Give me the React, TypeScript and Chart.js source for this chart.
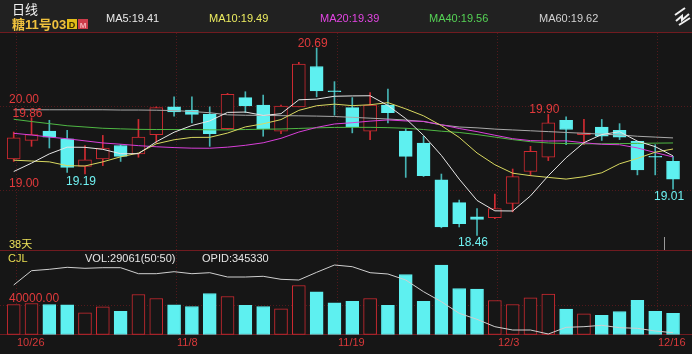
import React, { useEffect, useRef } from 'react';
import { Chart, registerables } from 'chart.js';

Chart.register(...registerables);

const W = 692;
const H = 354;

// ---- data ----
const opens = [19.37, 19.59, 19.70, 19.61, 19.28, 19.37, 19.53, 19.43, 19.66, 19.99, 19.95, 19.90, 19.73, 20.10, 20.01, 19.70, 19.99, 20.47, 20.18, 19.98, 19.70, 20.01, 19.70, 19.56, 19.12, 18.85, 18.68, 18.67, 18.84, 19.22, 19.39, 19.83, 19.66, 19.75, 19.71, 19.58, 19.40, 19.34];
const highs = [19.69, 19.86, 19.83, 19.71, 19.53, 19.65, 19.54, 19.84, 19.99, 20.11, 20.11, 19.99, 20.15, 20.17, 20.13, 20.01, 20.52, 20.69, 20.29, 20.10, 20.16, 20.20, 19.73, 19.64, 19.19, 18.88, 18.78, 18.95, 19.25, 19.52, 19.90, 19.87, 19.84, 19.84, 19.79, 19.58, 19.54, 19.40];
const lows = [19.34, 19.52, 19.50, 19.21, 19.19, 19.29, 19.34, 19.39, 19.56, 19.88, 19.80, 19.52, 19.72, 19.92, 19.64, 19.67, 19.99, 20.11, 19.89, 19.68, 19.60, 19.80, 19.15, 19.16, 18.55, 18.56, 18.46, 18.66, 18.74, 19.17, 19.35, 19.54, 19.54, 19.59, 19.60, 19.18, 19.18, 19.01];
const closes = [19.62, 19.66, 19.63, 19.27, 19.36, 19.50, 19.40, 19.63, 19.98, 19.93, 19.90, 19.67, 20.14, 20.00, 19.73, 20.00, 20.50, 20.18, 20.17, 19.75, 20.01, 19.92, 19.40, 19.17, 18.56, 18.60, 18.65, 18.78, 19.16, 19.46, 19.80, 19.72, 19.68, 19.64, 19.63, 19.24, 19.39, 19.13];

const volumes = [41400, 42700, 41400, 41000, 29900, 38200, 32100, 55200, 49600, 41000, 38600, 56500, 52400, 40400, 38600, 35400, 67600, 58900, 43700, 45900, 49600, 40400, 82700, 45900, 95600, 63400, 62500, 46900, 41400, 50600, 55600, 34900, 28500, 26600, 31700, 47300, 32100, 29061];
const openInterest = [393030, 407330, 408730, 410730, 409730, 410330, 410330, 404330, 404330, 406330, 404330, 405330, 401030, 401030, 401730, 398730, 398030, 405730, 413030, 411330, 405330, 404030, 398030, 386330, 376330, 364730, 358730, 351330, 348030, 348030, 344030, 350730, 351330, 352730, 350330, 349730, 347030, 345330];

const ma5 = [19.22, 19.32, 19.43, 19.51, 19.508, 19.484, 19.432, 19.432, 19.574, 19.688, 19.768, 19.822, 19.924, 19.928, 19.888, 19.908, 20.074, 20.082, 20.116, 20.12, 20.122, 20.006, 19.85, 19.65, 19.412, 19.13, 18.876, 18.752, 18.75, 18.93, 19.17, 19.384, 19.564, 19.66, 19.694, 19.582, 19.516, 19.406];
const ma10 = [19.355, 19.345, 19.335, 19.29, 19.286, 19.335, 19.395, 19.44, 19.55, 19.598, 19.626, 19.627, 19.678, 19.751, 19.788, 19.838, 19.948, 20.003, 20.022, 20.004, 20.015, 20.04, 19.966, 19.883, 19.766, 19.626, 19.441, 19.301, 19.2, 19.171, 19.15, 19.13, 19.158, 19.205, 19.312, 19.376, 19.45, 19.488];
const ma20 = [19.675, 19.655, 19.63, 19.61, 19.585, 19.56, 19.545, 19.528, 19.515, 19.505, 19.498, 19.497, 19.51, 19.532, 19.562, 19.615, 19.69, 19.745, 19.786, 19.801, 19.82, 19.834, 19.822, 19.817, 19.777, 19.732, 19.695, 19.652, 19.611, 19.588, 19.583, 19.585, 19.562, 19.544, 19.539, 19.501, 19.446, 19.393];
const ma40 = [19.842, 19.815, 19.79, 19.765, 19.75, 19.735, 19.728, 19.722, 19.72, 19.72, 19.72, 19.716, 19.716, 19.72, 19.724, 19.726, 19.733, 19.74, 19.745, 19.746, 19.746, 19.742, 19.735, 19.72, 19.7, 19.685, 19.66, 19.63, 19.6, 19.575, 19.56, 19.553, 19.55, 19.55, 19.552, 19.555, 19.558, 19.56];
const ma60 = [19.955, 19.955, 19.955, 19.955, 19.955, 19.955, 19.952, 19.952, 19.95, 19.945, 19.935, 19.92, 19.895, 19.89, 19.888, 19.885, 19.883, 19.88, 19.875, 19.865, 19.855, 19.845, 19.833, 19.815, 19.775, 19.75, 19.74, 19.725, 19.715, 19.705, 19.695, 19.685, 19.675, 19.665, 19.655, 19.64, 19.63, 19.62];

const dateLabels = ['10/26', '11/8', '11/19', '12/3', '12/16'];
const dateIndex = [0, 9, 18, 27, 36];
const priceTicks = [20, 19];
const volumeTicks = [40000];
const highMarks = [1, 17, 30];
const lowMarks = [4, 26, 37];

const maNames = ['MA5', 'MA10', 'MA20', 'MA40', 'MA60'];
const maValues = [ma5, ma10, ma20, ma40, ma60];

// ---- styles ----
const BG = '#161616';
const HEAD = '#212121';
const UP = '#cf2a31';
const DOWN = '#5ef0f0';
const DOWN_WICK = '#46b4b4';
const SEP = '#701b20';
const GRID = '#52191c';
const LABEL_RED = '#e23a3c';
const MA_COLORS = ['#e6e6e6', '#d8d860', '#d93fd9', '#4fb844', '#a9a9a9'];
const MA_TEXT = ['#e8e8e8', '#ecec60', '#e445e4', '#55d255', '#d2d2d2'];
const MA_TEXT_X = [106, 209, 320, 429, 539];
const FONT = '"Liberation Sans", Arial, sans-serif';
const CJK = '"Noto Sans CJK SC", sans-serif';
const MIXED = '"Liberation Sans", "Noto Sans CJK SC", sans-serif';

export default function App() {
  const ref = useRef<HTMLCanvasElement>(null);

  useEffect(() => {
    const canvas = ref.current;
    if (!canvas) return;
    const idx = closes.map((_, i) => i);
    const isUp = idx.map((i) => closes[i] > opens[i]);

    const decor = {
      id: 'decor',
      beforeDraw(chart: any) {
        const { ctx } = chart;
        const xs = chart.scales.x;
        const yP = chart.scales.yP;
        const yV = chart.scales.yV;
        ctx.save();
        ctx.fillStyle = BG;
        ctx.fillRect(0, 0, W, H);
        ctx.fillStyle = HEAD;
        ctx.fillRect(0, 0, W, 32);
        const base = Math.round(yV.getPixelForValue(0)) + 0.5;
        ctx.strokeStyle = GRID;
        ctx.lineWidth = 1;
        ctx.setLineDash([1, 2]);
        dateIndex.forEach((d) => {
          const x = Math.round(xs.getPixelForValue(d + 0.12)) + 0.5;
          ctx.beginPath();
          ctx.moveTo(x, 33);
          ctx.lineTo(x, base);
          ctx.stroke();
        });
        priceTicks.forEach((v) => {
          const y = Math.round(yP.getPixelForValue(v)) + 0.5;
          ctx.beginPath();
          ctx.moveTo(0, y);
          ctx.lineTo(W, y);
          ctx.stroke();
        });
        volumeTicks.forEach((v) => {
          const y = Math.round(yV.getPixelForValue(v)) + 0.5;
          ctx.beginPath();
          ctx.moveTo(0, y);
          ctx.lineTo(W, y);
          ctx.stroke();
        });
        ctx.setLineDash([]);
        ctx.strokeStyle = SEP;
        [32.5, 250.5, base].forEach((y) => {
          ctx.beginPath();
          ctx.moveTo(0, y);
          ctx.lineTo(W, y);
          ctx.stroke();
        });
        ctx.restore();
      },
      afterDatasetsDraw(chart: any) {
        const { ctx } = chart;
        const xs = chart.scales.x;
        const yP = chart.scales.yP;
        const yV = chart.scales.yV;
        ctx.save();
        const txt = (s: string, x: number, y: number, color: string, font: string, align: CanvasTextAlign = 'left') => {
          ctx.font = font;
          ctx.fillStyle = color;
          ctx.textAlign = align;
          ctx.textBaseline = 'alphabetic';
          ctx.fillText(s, x, y);
        };
        // header
        txt('日线', 12, 14, '#f2f2f2', `13px ${CJK}`);
        txt('糖11号03', 12, 29, '#f0c23e', `bold 13px ${MIXED}`);
        ctx.fillStyle = '#e3bd18';
        ctx.fillRect(67, 19, 10, 10);
        txt('D', 72, 28, '#3a2c00', `bold 9px ${FONT}`, 'center');
        ctx.fillStyle = '#cc3c4a';
        ctx.fillRect(78, 19, 10, 10);
        txt('M', 83, 28, '#f3b0b6', `bold 8px ${FONT}`, 'center');
        maNames.forEach((n, k) => {
          const arr = maValues[k];
          txt(`${n}:${arr[arr.length - 1].toFixed(2)}`, MA_TEXT_X[k], 21.5, MA_TEXT[k], `11px ${FONT}`);
        });
        // icon top-right
        ctx.strokeStyle = '#f0f0f0';
        ctx.lineWidth = 2;
        ctx.beginPath();
        ctx.moveTo(675, 15); ctx.lineTo(685, 8);
        ctx.moveTo(676, 21); ctx.lineTo(682, 16); ctx.lineTo(682, 20); ctx.lineTo(689, 14);
        ctx.moveTo(679, 25); ctx.lineTo(690, 18);
        ctx.stroke();
        // price axis labels
        priceTicks.forEach((v) => {
          txt(v.toFixed(2), 9, yP.getPixelForValue(v) - 3, LABEL_RED, `12px ${FONT}`);
        });
        // high / low marks
        highMarks.forEach((i) => {
          txt(highs[i].toFixed(2), xs.getPixelForValue(i) - 4, yP.getPixelForValue(highs[i]) - 1, LABEL_RED, `12px ${FONT}`, 'center');
        });
        lowMarks.forEach((i) => {
          txt(lows[i].toFixed(2), xs.getPixelForValue(i) - 4, yP.getPixelForValue(lows[i]) + 11, '#6ff0f0', `12px ${FONT}`, 'center');
        });
        // small marker line
        const mx = Math.round(xs.getPixelForValue(36.5)) + 0.5;
        ctx.strokeStyle = '#9a9a9a';
        ctx.lineWidth = 1;
        ctx.beginPath();
        ctx.moveTo(mx, 237);
        ctx.lineTo(mx, 250);
        ctx.stroke();
        // lower panel texts
        txt(`${closes.length}天`, 9, 248, '#ece25a', `11px ${MIXED}`);
        txt('CJL', 8, 262, '#e8dc50', `11px ${FONT}`);
        txt(`VOL:${volumes[volumes.length - 1]}(50:50)`, 85, 262, '#e6e6e6', `11px ${FONT}`);
        txt(`OPID:${openInterest[openInterest.length - 1]}`, 202, 262, '#e6e6e6', `11px ${FONT}`);
        volumeTicks.forEach((v) => {
          txt(v.toFixed(2), 9, yV.getPixelForValue(v) - 3, LABEL_RED, `12px ${FONT}`);
        });
        // date labels
        dateIndex.forEach((d, k) => {
          const x = Math.round(xs.getPixelForValue(d + 0.12)) + 1;
          txt(dateLabels[k], Math.max(x, 17), 346, '#d8393a', `11px ${FONT}`);
        });
        ctx.restore();
      },
    };

    const maSets = maValues.map((arr, k) => ({
      type: 'line' as const,
      label: maNames[k],
      data: arr.map((v, i) => ({ x: i, y: v })),
      xAxisID: 'x',
      yAxisID: 'yP',
      borderColor: MA_COLORS[k],
      borderWidth: 1,
      pointRadius: 0,
      tension: 0,
      fill: false,
      order: 1,
    }));

    const chart = new Chart(canvas, {
      type: 'bar',
      data: {
        datasets: [
          {
            type: 'bar',
            label: 'wick',
            data: idx.map((i) => ({ x: i, y: [lows[i], highs[i]] })),
            xAxisID: 'x',
            yAxisID: 'yP',
            backgroundColor: idx.map((i) => (isUp[i] ? UP : DOWN_WICK)),
            barThickness: 1,
            grouped: false,
            borderWidth: 0,
            order: 6,
          },
          {
            type: 'bar',
            label: 'body',
            data: idx.map((i) => ({ x: i, y: [opens[i], closes[i]] })),
            xAxisID: 'x',
            yAxisID: 'yP',
            backgroundColor: idx.map((i) => (isUp[i] ? BG : DOWN)),
            borderColor: idx.map((i) => (isUp[i] ? UP : DOWN)),
            borderWidth: 1,
            borderSkipped: false,
            barThickness: 13,
            minBarLength: 1,
            grouped: false,
            order: 5,
          },
          {
            type: 'bar',
            label: 'volume',
            data: idx.map((i) => ({ x: i, y: volumes[i] })),
            xAxisID: 'x',
            yAxisID: 'yV',
            backgroundColor: idx.map((i) => (isUp[i] ? BG : DOWN)),
            borderColor: idx.map((i) => (isUp[i] ? UP : DOWN)),
            borderWidth: 1,
            borderSkipped: false,
            barThickness: 13,
            grouped: false,
            order: 5,
          },
          {
            type: 'line',
            label: 'openInterest',
            data: idx.map((i) => ({ x: i, y: openInterest[i] })),
            xAxisID: 'x',
            yAxisID: 'yO',
            borderColor: '#cfcfcf',
            borderWidth: 1,
            pointRadius: 0,
            tension: 0,
            fill: false,
            order: 2,
          },
          ...maSets,
        ] as any,
      },
      options: {
        animation: false,
        responsive: false,
        devicePixelRatio: 1,
        events: [],
        layout: { padding: 0 },
        plugins: { legend: { display: false }, tooltip: { enabled: false }, title: { display: false } },
        scales: {
          x: { type: 'linear', min: -0.769, max: 38.064, offset: false, display: false },
          yP: { type: 'linear', position: 'left', min: 17.0476, max: 21.2619, display: false },
          yV: { type: 'linear', position: 'left', min: -26897, max: 461379, display: false },
          yO: { type: 'linear', position: 'left', min: 324030, max: 678030, display: false },
        },
      },
      plugins: [decor],
    });
    return () => chart.destroy();
  }, []);

  return (
    <div style={{ position: 'fixed', left: 0, top: 0, width: W, height: H, background: BG }}>
      <canvas ref={ref} width={W} height={H} style={{ display: 'block', width: W, height: H }} />
    </div>
  );
}
